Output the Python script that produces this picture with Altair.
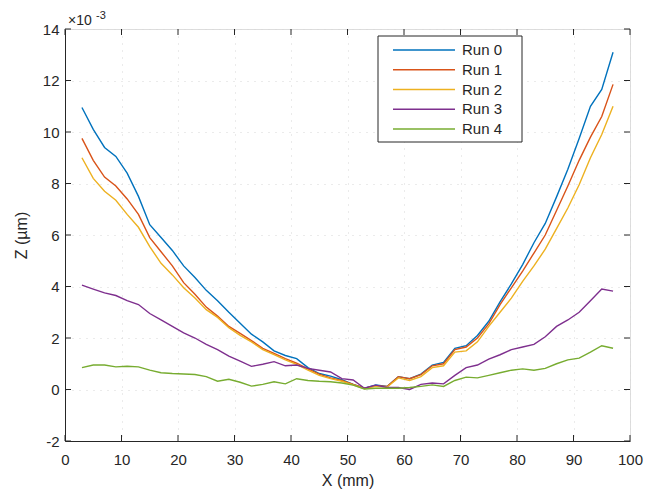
import altair as alt
import pandas as pd

x_mm = [3, 5, 7, 9, 11, 13, 15, 17, 19, 21, 23, 25, 27, 29, 31, 33, 35, 37, 39, 41, 43, 45, 47, 49,
        51, 53, 55, 57, 59, 61, 63, 65, 67, 69, 71, 73, 75, 77, 79, 81, 83, 85, 87, 89, 91, 93, 95, 97]

run0 = [10.95, 10.1, 9.4, 9.05, 8.4, 7.5, 6.4, 5.9, 5.4, 4.8, 4.35, 3.85, 3.45, 3.0, 2.57, 2.15,
        1.85, 1.5, 1.32, 1.2, 0.85, 0.62, 0.52, 0.38, 0.2, 0.05, 0.18, 0.12, 0.5, 0.42, 0.6, 0.95,
        1.05, 1.6, 1.7, 2.1, 2.65, 3.4, 4.1, 4.85, 5.7, 6.45, 7.48, 8.55, 9.75, 11.0, 11.65, 13.1]
run1 = [9.75, 8.9, 8.25, 7.9, 7.4, 6.8, 5.9, 5.35, 4.8, 4.15, 3.7, 3.2, 2.85, 2.45, 2.18, 1.9,
        1.6, 1.4, 1.2, 1.02, 0.8, 0.6, 0.45, 0.35, 0.2, 0.05, 0.15, 0.12, 0.5, 0.42, 0.58, 0.92,
        1.0, 1.55, 1.65, 2.0, 2.55, 3.3, 3.95, 4.6, 5.3, 6.0, 6.95, 7.9, 8.9, 9.8, 10.6, 11.85]
run2 = [9.0, 8.2, 7.7, 7.35, 6.8, 6.3, 5.55, 4.9, 4.45, 3.95, 3.55, 3.1, 2.8, 2.4, 2.1, 1.85,
        1.55, 1.35, 1.15, 0.98, 0.75, 0.55, 0.42, 0.32, 0.18, 0.03, 0.12, 0.1, 0.45, 0.35, 0.5, 0.85,
        0.92, 1.45, 1.5, 1.85, 2.45, 3.0, 3.55, 4.2, 4.8, 5.45, 6.25, 7.05, 7.95, 9.0, 9.9, 11.0]
run3 = [4.05, 3.9, 3.75, 3.65, 3.45, 3.3, 2.95, 2.7, 2.45, 2.2, 2.0, 1.75, 1.55, 1.3, 1.1, 0.9,
        0.98, 1.08, 0.92, 0.95, 0.82, 0.75, 0.68, 0.42, 0.37, 0.05, 0.17, 0.08, 0.08, 0.0, 0.2, 0.25,
        0.22, 0.55, 0.85, 0.95, 1.18, 1.35, 1.55, 1.65, 1.75, 2.05, 2.45, 2.7, 3.0, 3.45, 3.9, 3.82]
run4 = [0.85, 0.95, 0.95, 0.88, 0.9, 0.88, 0.75, 0.65, 0.62, 0.6, 0.58, 0.5, 0.32, 0.4, 0.28, 0.13,
        0.2, 0.3, 0.22, 0.42, 0.35, 0.32, 0.3, 0.25, 0.17, 0.02, 0.05, 0.05, 0.05, 0.08, 0.12, 0.18,
        0.12, 0.35, 0.48, 0.45, 0.55, 0.65, 0.75, 0.8, 0.75, 0.82, 1.0, 1.15, 1.22, 1.45, 1.7, 1.6]

runs = ["Run 0", "Run 1", "Run 2", "Run 3", "Run 4"]
colors = ["#0072BD", "#D95319", "#EDB120", "#7E2F8E", "#77AC30"]
x_ticks = [0, 10, 20, 30, 40, 50, 60, 70, 80, 90, 100]
y_ticks = [-2, 0, 2, 4, 6, 8, 10, 12, 14]

rows = []
for name, vals in zip(runs, [run0, run1, run2, run3, run4]):
    for xv, zv in zip(x_mm, vals):
        rows.append({"run": name, "x": xv, "z": zv})
df = pd.DataFrame(rows)

W, H = 565, 412
FONT = "Liberation Sans"
INK = "#262626"

xscale = alt.Scale(domain=[0, 100], nice=False, zero=False)
yscale = alt.Scale(domain=[-2, 14], nice=False, zero=False)
cscale = alt.Scale(domain=runs, range=colors)

x_axis = alt.Axis(
    values=x_ticks, title="X (mm)", grid=True, gridDash=[1, 6], gridColor="#d6d6d6",
    ticks=False, labelPadding=11, labelFontSize=15, labelFont=FONT, labelColor=INK,
    titleFont=FONT, titleFontSize=16, titleFontWeight="normal", titleColor=INK, titlePadding=5,
    domainColor=INK, labelFlush=False, labelExpr="'' + datum.value")
y_axis = alt.Axis(
    values=y_ticks, title="Z (µm)", grid=True, gridDash=[1, 6], gridColor="#d6d6d6",
    ticks=False, labelPadding=6, labelFontSize=15, labelFont=FONT, labelColor=INK,
    titleFont=FONT, titleFontSize=16, titleFontWeight="normal", titleColor=INK, titlePadding=13,
    domainColor=INK, labelFlush=False, labelExpr="'' + datum.value")

lines = alt.Chart(df).mark_line(strokeWidth=1.4, clip=True).encode(
    x=alt.X("x:Q", scale=xscale, axis=x_axis),
    y=alt.Y("z:Q", scale=yscale, axis=y_axis),
    color=alt.Color("run:N", scale=cscale, legend=None),
    detail="run:N",
)

xt = pd.DataFrame({"x": x_ticks})
yt = pd.DataFrame({"z": y_ticks})
TL = 6
tick_layers = [
    alt.Chart(xt).mark_rule(color=INK, strokeWidth=1).encode(
        x=alt.X("x:Q", scale=xscale, axis=x_axis), y=alt.value(H), y2=alt.value(H - TL)),
    alt.Chart(xt).mark_rule(color=INK, strokeWidth=1).encode(
        x=alt.X("x:Q", scale=xscale, axis=x_axis), y=alt.value(0), y2=alt.value(TL)),
    alt.Chart(yt).mark_rule(color=INK, strokeWidth=1).encode(
        y=alt.Y("z:Q", scale=yscale, axis=y_axis), x=alt.value(0), x2=alt.value(TL)),
    alt.Chart(yt).mark_rule(color=INK, strokeWidth=1).encode(
        y=alt.Y("z:Q", scale=yscale, axis=y_axis), x=alt.value(W), x2=alt.value(W - TL)),
]

one = pd.DataFrame({"a": [0]})
exp_layers = [
    alt.Chart(one).mark_text(text="×10", font=FONT, fontSize=14, color=INK, align="left",
                             baseline="alphabetic").encode(x=alt.value(3), y=alt.value(-4)),
    alt.Chart(one).mark_text(text="-3", font=FONT, fontSize=11, color=INK, align="left",
                             baseline="alphabetic").encode(x=alt.value(31), y=alt.value(-10)),
]

LX0, LX1, LY0, LY1 = 313, 457, 7, 113
leg_layers = [
    alt.Chart(one).mark_rect(fill="white", stroke=INK, strokeWidth=1).encode(
        x=alt.value(LX0), x2=alt.value(LX1), y=alt.value(LY0), y2=alt.value(LY1)),
]
for i, (name, col) in enumerate(zip(runs, colors)):
    yy = 21 + 19.75 * i
    leg_layers.append(alt.Chart(one).mark_rule(color=col, strokeWidth=1.5).encode(
        x=alt.value(328), x2=alt.value(390), y=alt.value(yy)))
    leg_layers.append(alt.Chart(one).mark_text(text=name, font=FONT, fontSize=15, color=INK,
                                               align="left", baseline="middle").encode(
        x=alt.value(397), y=alt.value(yy)))

chart = alt.layer(lines, *tick_layers, *exp_layers, *leg_layers).properties(
    width=W, height=H,
    autosize=alt.AutoSizeParams(type="none"),
    padding={"left": 57, "top": 21, "right": 20, "bottom": 50},
).configure_view(stroke=INK, strokeWidth=1).configure(background="white")

chart.save("out.html", embed_options={"renderer": "svg", "actions": False})
